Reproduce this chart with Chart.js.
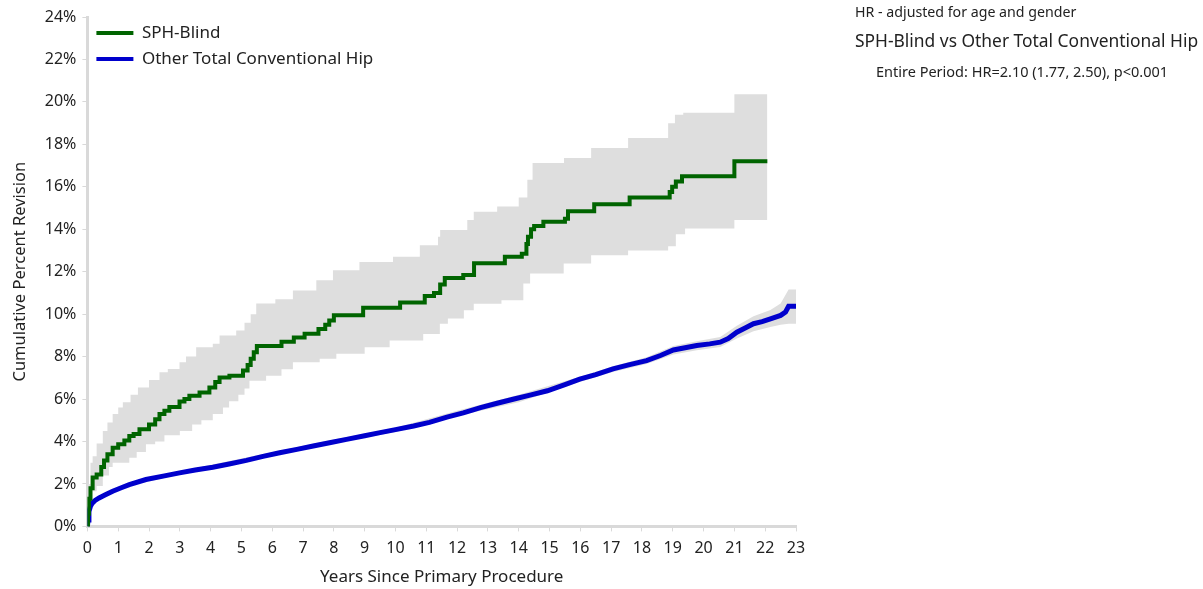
<!DOCTYPE html>
<html lang="en">
<head>
<meta charset="UTF-8">
<script src="https://cdn.jsdelivr.net/npm/chart.js"></script>
<title>SPH-Blind vs Other Total Conventional Hip</title>
<style>
  body { margin: 0; background: #fff; font-family: "Noto Sans", sans-serif; color: #222; }
  #wrap { position: relative; width: 1203px; height: 589px; }
  .nota { position: absolute; white-space: nowrap; }
</style>
</head>
<body>
<div id="wrap">
  <canvas id="grafico" width="1203" height="589"></canvas>
  <div class="nota" style="left:855px; top:2px; font-size:14.2px">HR - adjusted for age and gender</div>
  <div class="nota" style="left:855px; top:28px; font-size:17.4px">SPH-Blind vs Other Total Conventional Hip</div>
  <div class="nota" style="left:876px; top:61px; font-size:14.5px">Entire Period: HR=2.10 (1.77, 2.50), p&lt;0.001</div>
</div>
<script>
// series names
var nomes = ["SPH-Blind", "Other Total Conventional Hip"]

// SPH-Blind (years, cumulative % revision) - step curve
var sphBlind = [[0,0],[0.02,0.6],[0.05,1.3],[0.1,1.8],[0.17,2.3],[0.3,2.45],[0.45,2.8],[0.54,3.1],[0.65,3.4],[0.82,3.7],[1.0,3.87],[1.2,4.05],[1.36,4.26],[1.5,4.35],[1.69,4.58],[2.0,4.8],[2.2,5.05],[2.34,5.29],[2.5,5.45],[2.66,5.63],[2.99,5.88],[3.15,6.0],[3.31,6.15],[3.64,6.31],[3.96,6.55],[4.15,6.8],[4.29,7.02],[4.61,7.1],[5.05,7.34],[5.2,7.6],[5.3,7.9],[5.4,8.2],[5.5,8.5],[6.3,8.7],[6.7,8.9],[7.05,9.08],[7.5,9.3],[7.72,9.5],[7.85,9.7],[8.0,9.95],[8.95,10.3],[10.15,10.55],[10.95,10.85],[11.25,11.0],[11.45,11.4],[11.6,11.7],[12.2,11.85],[12.55,12.4],[13.55,12.7],[14.1,12.85],[14.25,13.3],[14.3,13.65],[14.4,14.0],[14.5,14.15],[14.8,14.35],[15.5,14.5],[15.6,14.85],[16.45,15.18],[17.6,15.5],[18.9,15.75],[18.98,16.0],[19.1,16.25],[19.3,16.5],[21.0,17.2],[22.07,17.2]]
var sphSuperior = [[0,0],[0.03,2.0],[0.1,3.0],[0.17,3.3],[0.3,3.9],[0.5,4.5],[0.65,4.9],[0.82,5.3],[1.0,5.6],[1.15,5.85],[1.4,6.2],[1.64,6.55],[2.0,6.9],[2.34,7.26],[2.61,7.42],[2.99,7.73],[3.2,8.0],[3.53,8.44],[4.07,8.6],[4.29,9.0],[4.83,9.23],[5.1,9.6],[5.3,10.0],[5.48,10.5],[6.1,10.7],[6.67,11.12],[7.43,11.6],[7.97,12.07],[8.83,12.46],[9.92,12.7],[10.79,13.25],[11.38,13.65],[11.45,13.96],[12.33,14.44],[12.54,14.83],[13.3,15.07],[14.0,15.5],[14.28,16.33],[14.45,17.12],[15.47,17.36],[16.35,17.83],[17.55,18.3],[18.85,19.0],[19.07,19.4],[19.34,19.49],[21.0,20.36],[22.07,20.36]]
var sphInferior = [[0,0],[0.05,0.5],[0.1,1.2],[0.16,1.66],[0.3,1.9],[0.5,2.4],[0.7,2.8],[0.82,3.0],[1.36,3.23],[1.6,3.5],[1.9,3.87],[2.2,4.0],[2.5,4.3],[3.0,4.5],[3.4,4.8],[3.7,5.0],[4.07,5.29],[4.4,5.6],[4.6,5.9],[4.9,6.2],[5.1,6.5],[5.26,6.86],[5.8,7.1],[6.3,7.4],[6.67,7.73],[7.54,7.9],[8.08,8.13],[9.0,8.44],[9.81,8.76],[10.9,9.07],[11.44,9.55],[11.7,9.8],[12.22,10.18],[12.54,10.49],[13.44,10.65],[14.15,11.44],[14.37,11.91],[15.46,12.39],[16.35,12.78],[17.55,13.0],[18.85,13.2],[19.1,13.77],[19.4,14.04],[21.0,14.44],[22.07,14.44]]

// Other Total Conventional Hip
var outros = [[0,0],[0.02,0.3],[0.05,0.7],[0.1,0.95],[0.16,1.1],[0.25,1.22],[0.38,1.34],[0.6,1.5],[0.82,1.66],[1.1,1.82],[1.36,1.97],[1.9,2.21],[2.5,2.38],[2.99,2.52],[3.5,2.66],[4.07,2.79],[4.6,2.94],[5.16,3.11],[5.7,3.3],[6.24,3.47],[6.8,3.63],[7.33,3.79],[7.9,3.95],[8.41,4.1],[9.0,4.27],[9.5,4.42],[10.0,4.56],[10.59,4.73],[11.1,4.9],[11.67,5.15],[12.2,5.35],[12.76,5.6],[13.3,5.8],[13.85,6.0],[14.4,6.2],[14.93,6.39],[15.5,6.68],[15.98,6.94],[16.5,7.15],[17.06,7.42],[17.6,7.62],[18.15,7.81],[18.6,8.05],[19.02,8.31],[19.4,8.42],[19.78,8.52],[20.2,8.6],[20.54,8.68],[20.8,8.85],[21.08,9.15],[21.35,9.35],[21.62,9.55],[21.9,9.65],[22.17,9.78],[22.5,9.94],[22.66,10.1],[22.76,10.37],[23.03,10.37]]
var outrosSuperior = [[0,0],[0.02,0.35],[0.05,0.75],[0.1,1.0],[0.16,1.15],[0.38,1.38],[0.82,1.71],[1.36,2.02],[3,2.6],[5,3.2],[8,4.1],[10,4.65],[12,5.45],[14,6.2],[15.98,7.05],[17.06,7.55],[18.15,7.97],[19.02,8.5],[19.78,8.72],[20.54,8.92],[21.08,9.45],[21.62,9.9],[22.17,10.2],[22.5,10.5],[22.76,11.16],[23.03,11.16]]
var outrosInferior = [[0,0],[0.02,0.25],[0.05,0.65],[0.1,0.9],[0.16,1.05],[0.38,1.3],[0.82,1.61],[1.36,1.92],[3,2.45],[5,3.02],[8,3.9],[10,4.45],[12,5.2],[14,5.85],[15.98,6.8],[17.06,7.28],[18.15,7.65],[19.02,8.1],[19.78,8.3],[20.54,8.45],[21.08,8.85],[21.62,9.2],[22.17,9.4],[22.5,9.5],[22.76,9.55],[23.03,9.55]]

var anosMax = 23
var percentMax = 24

function pontos(lista) {
  return lista.map(p => ({ x: p[0], y: p[1] }))
}

var cinza = "#dedede"
var corAxis = "#d9d9d9"
var corTexto = "#222"
var fonte = "'Noto Sans', sans-serif"

const ctx = document.getElementById("grafico")
var myChart = new Chart(ctx, {
  type: "line",
  data: {
    datasets: [
      { label: nomes[0], data: pontos(sphBlind), borderColor: "#006400", backgroundColor: "#006400", borderWidth: 4, stepped: true, pointRadius: 0, fill: false },
      { label: nomes[1], data: pontos(outros), borderColor: "#0000cc", backgroundColor: "#0000cc", borderWidth: 5, pointRadius: 0, fill: false },
      { label: "ci1", data: pontos(sphSuperior), borderWidth: 0, stepped: true, pointRadius: 0, backgroundColor: cinza, fill: "+1" },
      { label: "ci1b", data: pontos(sphInferior), borderWidth: 0, stepped: true, pointRadius: 0, fill: false },
      { label: "ci2", data: pontos(outrosSuperior), borderWidth: 0, pointRadius: 0, backgroundColor: cinza, fill: "+1" },
      { label: "ci2b", data: pontos(outrosInferior), borderWidth: 0, pointRadius: 0, fill: false },
    ]
  },
  options: {
    responsive: false,
    animation: false,
    layout: { padding: { left: 6, right: 407, top: 17, bottom: -2 } },
    plugins: {
      tooltip: { enabled: false },
      legend: {
        position: "chartArea",
        align: "start",
        title: { display: true, text: " ", font: { size: 13 }, padding: 0 },
        labels: {
          boxWidth: 37,
          boxHeight: 4,
          padding: 9,
          color: corTexto,
          font: { family: fonte, size: 17 },
          filter: (item) => item.datasetIndex < 2,
          generateLabels: (chart) => chart.data.datasets.map((d, i) => ({
            text: d.label, fillStyle: d.borderColor, strokeStyle: d.borderColor, fontColor: corTexto, lineWidth: 0, datasetIndex: i, hidden: false
          }))
        }
      }
    },
    scales: {
      x: {
        type: "linear",
        min: 0,
        max: anosMax,
        border: { display: true, color: corAxis, width: 3 },
        grid: { display: true, drawOnChartArea: false, drawTicks: true, tickLength: 5, color: corAxis },
        ticks: { stepSize: 1, color: corTexto, font: { family: fonte, size: 16 }, maxRotation: 0, padding: 7 },
        title: { display: true, text: "Years Since Primary Procedure", color: corTexto, font: { family: fonte, size: 17 }, padding: { top: 2 } }
      },
      y: {
        min: 0,
        max: percentMax,
        border: { display: true, color: corAxis, width: 3 },
        grid: { display: true, drawOnChartArea: false, drawTicks: true, tickLength: 5, color: corAxis },
        ticks: { stepSize: 2, color: corTexto, font: { family: fonte, size: 16 }, padding: 6, callback: (v) => v + "%" },
        title: { display: true, text: "Cumulative Percent Revision", color: corTexto, font: { family: fonte, size: 16.5 }, padding: { bottom: 9 } }
      }
    }
  }
})
</script>
</body>
</html>
